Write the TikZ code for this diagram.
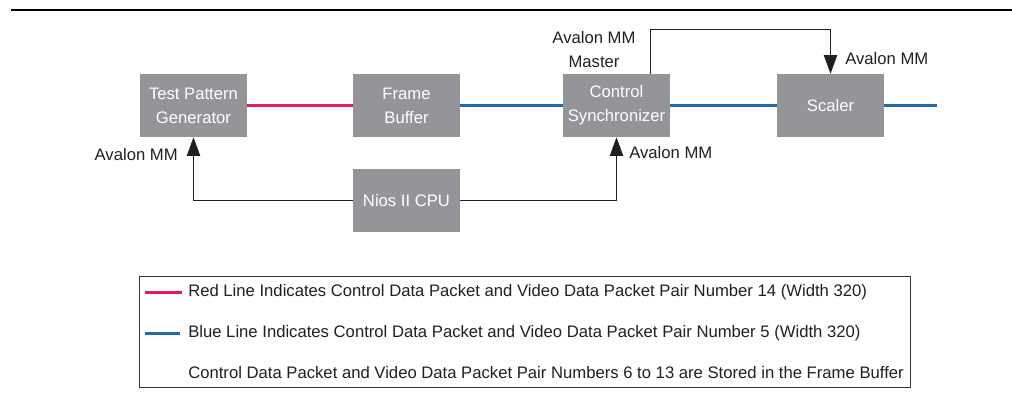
\documentclass[tikz,border=0pt]{standalone}
\usepackage{fontspec}
\setmainfont{Liberation Sans}
\usetikzlibrary{arrows.meta,calc}
\definecolor{boxgray}{HTML}{939598}
\definecolor{vidred}{HTML}{E8195A}
\definecolor{vidblue}{HTML}{1E6BB0}
\definecolor{txt}{HTML}{231F20}
\tikzset{
  blk/.style={fill=boxgray, minimum width=80.25pt, minimum height=47.25pt, inner sep=0pt,
    text=white, align=center, font=\fontsize{12.5}{18}\selectfont},
  lbl/.style={inner sep=0pt, text=txt, align=center, font=\fontsize{12.5}{18}\selectfont},
  redln/.style={draw=vidred, line width=2.25pt},
  blueln/.style={draw=vidblue, line width=2.25pt},
  ctl/.style={draw=txt, line width=0.8pt, -{Triangle[length=14pt,width=10pt]}},
}
\begin{document}
\begin{tikzpicture}[x=0.75pt,y=-0.75pt]
\useasboundingbox (0,0) rectangle (1012,400);
% top rule
\coordinate (rl) at (11,10);
\coordinate (rr) at (1012,10);
\draw[line width=1.5pt] (rl) -- (rr);
% blocks
\node[blk] (tpg) at (193.5,105.5) {Test Pattern\\Generator};
\node[blk] (fb) at (406.5,105.5) {Frame\\Buffer};
\node[blk] (cs) at (616.5,105.5) {Control\\Synchronizer};
\node[blk] (sc) at (830.5,105.5) {Scaler};
\node[blk] (cpu) at (406.5,200.5) {Nios II CPU};
% video lines
\coordinate (out) at (937,105.5);
\draw[redln] (tpg.east) -- (fb.west);
\draw[blueln] (fb.east) -- (cs.west);
\draw[blueln] (cs.east) -- (sc.west);
\draw[blueln] (sc.east) -- (out);
% control connections
\draw[ctl] (cpu.west) -| (tpg.south);
\draw[ctl] (cpu.east) -| (cs.south);
\coordinate (mx) at (650.3,29.5);
\draw[ctl] (cs.north -| mx) -- (mx) -| (sc.north);
% labels
\node[lbl, anchor=east] (l1) at (178,155) {Avalon MM};
\node[lbl, anchor=west] (l2) at (629,153) {Avalon MM};
\node[lbl] (l3) at (594,50) {Avalon MM\\Master};
\node[lbl, anchor=west] (l4) at (845,59) {Avalon MM};
% legend
\node[draw=txt!90, line width=0.75pt, minimum width=578.6pt, minimum height=83.6pt, inner sep=0pt] (leg) at (524.75,331.75) {};
\coordinate (ra) at (145,292);
\coordinate (rb) at (182,292);
\coordinate (ba) at (145,333);
\coordinate (bb) at (180,333);
\draw[redln] (ra) -- (rb);
\draw[blueln] (ba) -- (bb);
\node[lbl, anchor=west] (t1) at (188,292) {Red Line Indicates Control Data Packet and Video Data Packet Pair Number 14 (Width 320)};
\node[lbl, anchor=west] (t2) at (188,333) {Blue Line Indicates Control Data Packet and Video Data Packet Pair Number 5 (Width 320)};
\node[lbl, anchor=west] (t3) at (188,373) {Control Data Packet and Video Data Packet Pair Numbers 6 to 13 are Stored in the Frame Buffer};
\end{tikzpicture}
\end{document}
